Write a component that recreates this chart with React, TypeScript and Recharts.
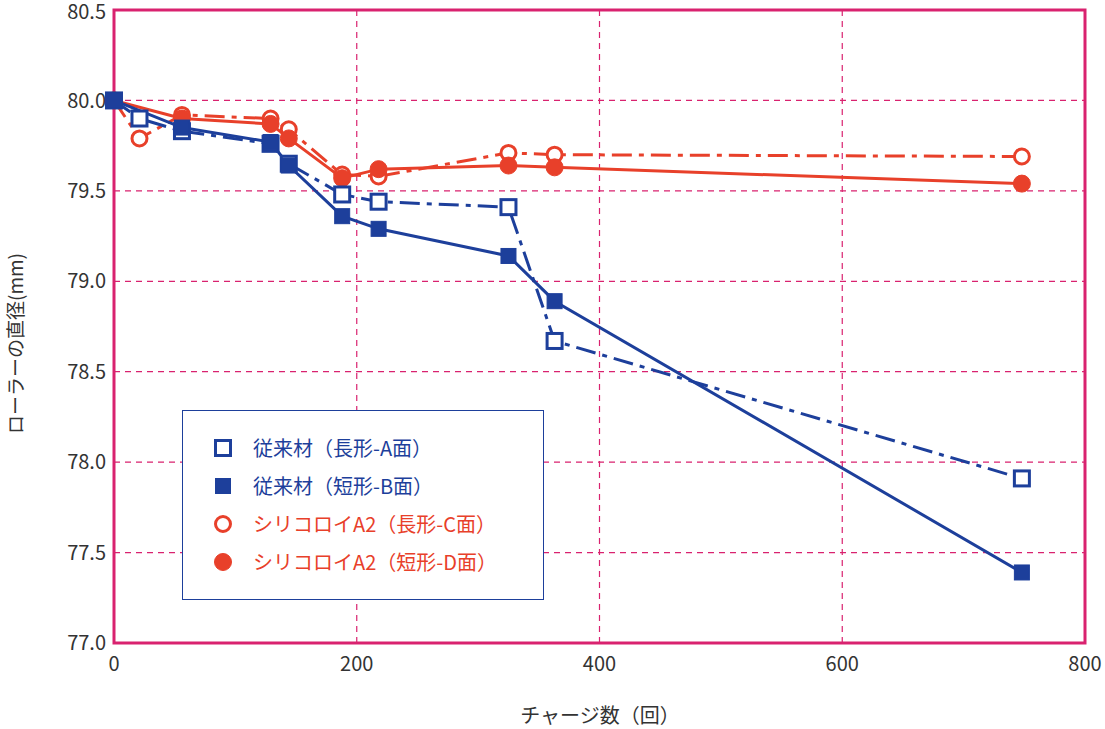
import { LineChart, Line, XAxis, YAxis, CartesianGrid, ReferenceArea } from 'recharts'

const BLUE = '#1d3f9b'
const RED = '#e8402a'
const PINK = '#d9226f'

const xA = [0, 21, 56, 129, 144, 188, 218, 325, 363, 748]
const yA = [80.0, 79.9, 79.83, 79.76, 79.65, 79.48, 79.44, 79.41, 78.67, 77.91]
const xB = [0, 56, 129, 144, 188, 218, 325, 363, 748]
const yB = [80.0, 79.85, 79.77, 79.64, 79.36, 79.29, 79.14, 78.89, 77.39]
const xC = [0, 21, 56, 129, 144, 188, 218, 325, 363, 748]
const yC = [80.0, 79.79, 79.92, 79.9, 79.84, 79.59, 79.58, 79.71, 79.7, 79.69]
const xD = [0, 56, 129, 144, 188, 218, 325, 363, 748]
const yD = [80.0, 79.9, 79.87, 79.79, 79.57, 79.62, 79.64, 79.63, 79.54]

const legendLabels = ['従来材（長形-A面）', '従来材（短形-B面）', 'シリコロイA2（長形-C面）', 'シリコロイA2（短形-D面）']
const xTicks = [0, 200, 400, 600, 800]
const yTicks = [77.0, 77.5, 78.0, 78.5, 79.0, 79.5, 80.0, 80.5]

const zip = (xs: number[], ys: number[]) => xs.map((x, i) => ({ x, y: ys[i] }))

const font = '"Noto Sans CJK JP", "Noto Sans", sans-serif'

function Marker({ cx, cy, kind, color }: any) {
  if (cx == null || cy == null) return null
  const open = kind === 'os' || kind === 'oc'
  if (kind === 'os' || kind === 'fs')
    return <rect x={cx - 7.5} y={cy - 7.5} width={15} height={15} fill={open ? '#fff' : color} stroke={color} strokeWidth={open ? 3 : 1} />
  return <circle cx={cx} cy={cy} r={open ? 7.5 : 8.5} fill={open ? '#fff' : color} stroke={color} strokeWidth={open ? 3 : 1} />
}

const series = [
  { id: 'C', data: zip(xC, yC), color: RED, dash: '20 7 5 7', kind: 'oc' },
  { id: 'D', data: zip(xD, yD), color: RED, dash: undefined, kind: 'fc' },
  { id: 'A', data: zip(xA, yA), color: BLUE, dash: '20 7 5 7', kind: 'os' },
  { id: 'B', data: zip(xB, yB), color: BLUE, dash: undefined, kind: 'fs' },
]

export default function App() {
  return (
    <div style={{ position: 'absolute', left: 0, top: 0, width: 1105, height: 729, background: '#fff', fontFamily: font }}>
      <LineChart width={1105} height={729} margin={{ top: 10, right: 20, bottom: 36, left: 40 }}>
        <CartesianGrid stroke={PINK} strokeDasharray="6 5" strokeWidth={1.2} />
        <XAxis type="number" dataKey="x" domain={[0, 800]} ticks={xTicks} height={50} axisLine={false} tickLine={false}
          tick={{ fontSize: 20, fill: '#333', fontFamily: font }} tickMargin={8} allowDuplicatedCategory={false} />
        <YAxis type="number" dataKey="y" domain={[77, 80.5]} ticks={yTicks} width={74} axisLine={false} tickLine={false}
          tickFormatter={(v: number) => v.toFixed(1)} tick={{ fontSize: 20, fill: '#333', fontFamily: font }} />
        <ReferenceArea x1={0} x2={800} y1={77} y2={80.5} fill="none" stroke={PINK} strokeWidth={3} fillOpacity={0} />
        {series.map(s => (
          <Line key={s.id} data={s.data} dataKey="y" type="linear" stroke={s.color} strokeWidth={3}
            strokeDasharray={s.dash} isAnimationActive={false}
            dot={(p: any) => <Marker key={p.index} cx={p.cx} cy={p.cy} kind={s.kind} color={s.color} />} />
        ))}
      </LineChart>
      <div style={{ position: 'absolute', left: 2, top: 330, width: 24, fontSize: 19, color: '#333', transform: 'rotate(-90deg)', transformOrigin: 'center', whiteSpace: 'nowrap', display: 'flex', justifyContent: 'center' }}>
        ローラーの直径(mm)
      </div>
      <div style={{ position: 'absolute', left: 0, width: 1200, top: 700, textAlign: 'center', fontSize: 20, color: '#333' }}>
        チャージ数（回）
      </div>
      <div style={{ position: 'absolute', left: 182, top: 410, width: 362, height: 190, border: `1.5px solid ${BLUE}`, background: '#fff', boxSizing: 'border-box' }}>
        {legendLabels.map((l, i) => (
          <div key={l} style={{ position: 'absolute', left: 28, top: 22 + i * 38, display: 'flex', alignItems: 'center', fontSize: 20, color: i < 2 ? BLUE : RED }}>
            <svg width={24} height={24} style={{ marginRight: 18 }}>
              <Marker cx={12} cy={12} kind={['os', 'fs', 'oc', 'fc'][i]} color={i < 2 ? BLUE : RED} />
            </svg>
            {l}
          </div>
        ))}
      </div>
    </div>
  )
}
